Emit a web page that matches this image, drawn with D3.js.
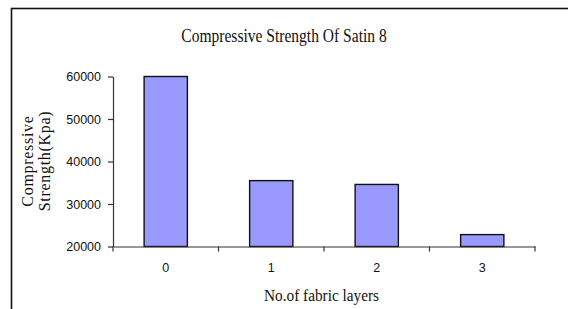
<!DOCTYPE html>
<html>
<head>
<meta charset="utf-8">
<script src="https://cdn.jsdelivr.net/npm/d3@7"></script>
<style>
  html, body { margin: 0; padding: 0; background: #fff; }
  svg { display: block; }
</style>
</head>
<body>
<svg id="chart" width="568" height="309"></svg>
<script>
const categories = ["0", "1", "2", "3"];
const values = [60000, 35500, 34600, 22800];
const yTicks = [20000, 30000, 40000, 50000, 60000];
const title = "Compressive Strength Of Satin 8";
const xTitle = "No.of fabric layers";
const yTitleLines = ["Compressive", "Strength(Kpa)"];

(function () {
const svg = d3.select("#chart");
const serif = "'Liberation Serif', 'Times New Roman', serif";
const sans = "'Liberation Sans', Arial, sans-serif";

// outer frame (extends beyond the picture on right and bottom)
svg.append("rect")
  .attr("x", 11.5).attr("y", 8.5)
  .attr("width", 700).attr("height", 400)
  .attr("fill", "none").attr("stroke", "#111").attr("stroke-width", 1.6);

const pLeft = 113, pRight = 535, pTop = 76.5, pBottom = 246.5;

const x = d3.scaleBand().domain(categories).range([pLeft, pRight]).padding(0);
const y = d3.scaleLinear().domain([20000, 60000]).range([pBottom, pTop]);

// bars
const bw = x.bandwidth() * 0.41;
svg.append("g").selectAll("rect").data(categories).join("rect")
  .attr("x", (d) => x(d) + (x.bandwidth() - bw) / 2)
  .attr("y", (d, i) => y(values[i]))
  .attr("width", bw)
  .attr("height", (d, i) => y(20000) - y(values[i]))
  .attr("fill", "#9999FF")
  .attr("stroke", "#111")
  .attr("stroke-width", 1.4);

// y axis
const yAxis = svg.append("g")
  .attr("transform", `translate(${pLeft},0)`)
  .call(d3.axisLeft(y).tickValues(yTicks).tickFormat(d3.format("d")).tickSize(5).tickSizeOuter(0).tickPadding(7));
yAxis.select(".domain").attr("stroke", "#333").attr("stroke-width", 1.2);
yAxis.selectAll(".tick line").attr("stroke", "#333").attr("stroke-width", 1.2);
yAxis.selectAll(".tick text").attr("font-family", sans).attr("font-size", 12.5).attr("fill", "#111");

// x axis: labels at band centres
const xAxis = svg.append("g")
  .attr("transform", `translate(0,${pBottom})`)
  .call(d3.axisBottom(x).tickSize(0).tickSizeOuter(0).tickPadding(17));
xAxis.select(".domain").attr("stroke", "#333").attr("stroke-width", 1.2);
xAxis.selectAll(".tick text").attr("font-family", sans).attr("font-size", 12.5).attr("fill", "#111");

// x ticks at band boundaries
const bounds = categories.map((c) => x(c)).concat([x.range()[1]]);
svg.append("g").selectAll("line").data(bounds).join("line")
  .attr("x1", (d) => d).attr("x2", (d) => d)
  .attr("y1", pBottom).attr("y2", pBottom + 5)
  .attr("stroke", "#333").attr("stroke-width", 1.2);

// title (tall, slightly condensed serif)
svg.append("text")
  .attr("transform", "translate(284,42) scale(0.84,1)")
  .attr("text-anchor", "middle")
  .attr("font-family", serif).attr("font-size", 18.5).attr("fill", "#111")
  .text(title);

// x title
svg.append("text")
  .attr("transform", "translate(321.5,301) scale(0.9,1)")
  .attr("text-anchor", "middle")
  .attr("font-family", serif).attr("font-size", 17).attr("fill", "#111")
  .text(xTitle);

// y title (rotated, two lines)
const yt = svg.append("text")
  .attr("transform", "translate(32.5,161) rotate(-90)")
  .attr("text-anchor", "middle")
  .attr("font-family", serif).attr("font-size", 16).attr("fill", "#111")
  .attr("letter-spacing", 0.7);
yt.selectAll("tspan").data(yTitleLines).join("tspan")
  .attr("x", 0).attr("dy", (d, i) => i === 0 ? 0 : 17.5)
  .text((d) => d);
})();
</script>
</body>
</html>
